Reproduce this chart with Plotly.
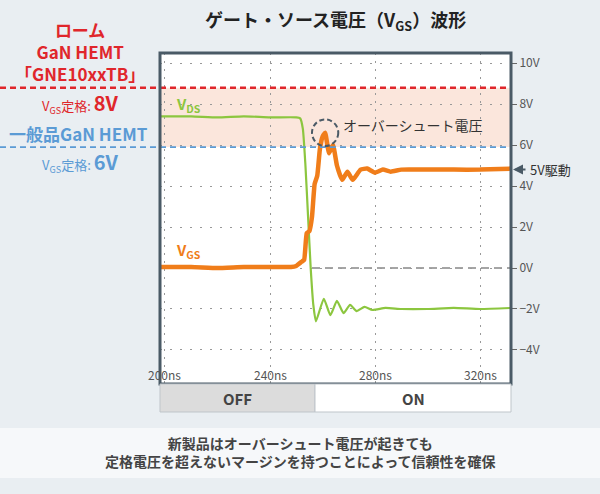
import plotly.graph_objects as go

# time axis (ns) and waveforms
t_vds = [198, 210, 220, 230, 240, 250, 251.5, 252.5, 253.5, 254.5, 255.5, 256.5, 257.5,
         260.5, 263, 265.5, 268, 270.5, 273, 276, 279, 284, 290, 300, 310, 320, 332]
v_vds = [7.4, 7.4, 7.35, 7.4, 7.35, 7.35, 7.3, 6.8, 5.0, 2.5, 0.0, -1.8, -2.6,
         -1.5, -2.3, -1.6, -2.2, -1.8, -2.1, -1.9, -2.05, -1.95, -2.0, -2.0, -1.95, -2.0, -1.95]

t_vgs = [198, 210, 220, 230, 240, 248, 250, 251, 252, 253, 254, 255, 256, 257, 258, 259,
         260, 261, 262.5, 264, 265.5, 267.5, 269.5, 271.5, 274.5, 277, 280, 283, 286, 290,
         300, 310, 320, 332]
v_vgs = [0.05, 0.05, 0.0, 0.05, 0.05, 0.05, 0.1, 0.2, 0.3, 0.4, 1.7, 1.8, 2.5, 4.1, 4.5,
         5.8, 6.4, 6.6, 5.6, 6.0, 5.0, 4.3, 4.7, 4.3, 4.8, 4.85, 4.65, 4.8, 4.7, 4.8,
         4.8, 4.8, 4.8, 4.85]

x_ticks = [200, 240, 280, 320]
x_tick_labels = ["200ns", "240ns", "280ns", "320ns"]
y_ticks = [10, 8, 6, 4, 2, 0, -2, -4]
y_tick_labels = ["10V", "8V", "6V", "4V", "2V", "0V", "−2V", "−4V"]

rohm_limit = 8.8     # drawn position of the 8V rating line
generic_limit = 5.9  # drawn position of the 6V rating line
peak_t, peak_v = 261, 6.6
drive_v = 4.8

RED = "#e0262b"
BLUE = "#5b9bd5"
GREEN = "#8cc63f"
ORANGE = "#f07d1a"
FONT = "Noto Sans CJK JP"


# pixel -> paper helpers (plot area 160..511 x 53..384)
def px(x):
    return (x - 160) / 351


def py(y):
    return (384 - y) / 331


fig = go.Figure()

fig.add_trace(go.Scatter(x=t_vds, y=v_vds, mode="lines", line_shape="spline",
                         line=dict(color=GREEN, width=2.2, smoothing=0.5), hoverinfo="skip"))
fig.add_trace(go.Scatter(x=t_vgs, y=v_vgs, mode="lines", line_shape="spline",
                         line=dict(color=ORANGE, width=4.5, smoothing=0.4), hoverinfo="skip"))

shapes = [
    # margin band between the two ratings
    dict(type="rect", xref="paper", yref="y", x0=0, x1=1, y0=generic_limit, y1=rohm_limit,
         fillcolor="#fbe6dc", line_width=0, layer="below"),
    dict(type="line", xref="paper", yref="y", x0=px(0), x1=1, y0=rohm_limit, y1=rohm_limit,
         line=dict(color=RED, width=2.5, dash="6px,4px")),
    dict(type="line", xref="paper", yref="y", x0=px(0), x1=1, y0=generic_limit, y1=generic_limit,
         line=dict(color=BLUE, width=1.8, dash="6px,4px")),
    # 0V reference after switching
    dict(type="line", xref="x", yref="y", x0=256, x1=332, y0=0, y1=0,
         line=dict(color="#888888", width=1.5, dash="8px,5px"), layer="below"),
    # overshoot circle
    dict(type="circle", xref="x", yref="y", x0=peak_t - 5, x1=peak_t + 5, y0=peak_v - 0.65,
         y1=peak_v + 0.65, line=dict(color="#4a5a66", width=2, dash="5px,3px")),
    # frame
    dict(type="rect", xref="paper", yref="paper", x0=0, x1=1, y0=0, y1=1,
         line=dict(color="#4a5a66", width=3)),
    # OFF / ON bar
    dict(type="rect", xref="paper", yref="paper", x0=0, x1=px(315), y0=py(412), y1=0,
         fillcolor="#dcdcdc", line=dict(color="#bfc5ca", width=1)),
    dict(type="rect", xref="paper", yref="paper", x0=px(315), x1=1, y0=py(412), y1=0,
         fillcolor="white", line=dict(color="#bfc5ca", width=1)),
    # note box
    dict(type="rect", xref="paper", yref="paper", x0=px(0), x1=px(600), y0=py(478), y1=py(428),
         fillcolor="#f6f8fa", line_width=0, layer="below"),
]

annotations = [
    dict(text="<b>ゲート・ソース電圧（V<sub>GS</sub>）波形</b>", x=px(335), y=py(20),
         font=dict(size=18, color="#222222")),
    dict(text="<b>ローム<br>GaN HEMT<br>「GNE10xxTB」</b>", x=px(80), y=py(52),
         font=dict(size=17, color=RED)),
    dict(text="V<sub>GS</sub>定格: <b><span style='font-size:20px'>8V</span></b>",
         x=px(80), y=py(102), font=dict(size=13, color=RED)),
    dict(text="<b>一般品GaN HEMT</b>", x=px(78), y=py(133), font=dict(size=17, color=BLUE)),
    dict(text="V<sub>GS</sub>定格: <b><span style='font-size:20px'>6V</span></b>",
         x=px(80), y=py(161), font=dict(size=13, color=BLUE)),
    dict(text="<b>V<sub>DS</sub></b>", x=px(188), y=py(104), font=dict(size=15, color=GREEN)),
    dict(text="<b>V<sub>GS</sub></b>", x=px(188), y=py(250), font=dict(size=15, color=ORANGE)),
    dict(text="オーバーシュート電圧", x=px(413), y=py(125), font=dict(size=14, color="#333333")),
    # 5V drive arrow and label
    dict(text="", x=px(513), y=drive_v, yref="y", showarrow=True, axref="pixel", ayref="pixel",
         ax=14, ay=0, arrowhead=2, arrowsize=1, arrowwidth=2, arrowcolor="#4a5a66"),
    dict(text="5V駆動", x=px(528), y=drive_v, yref="y", xanchor="left",
         font=dict(size=13, color="#333333")),
    dict(text="<b>OFF</b>", x=px(237), y=py(398), font=dict(size=15, color="#444444")),
    dict(text="<b>ON</b>", x=px(413), y=py(398), font=dict(size=15, color="#444444")),
    dict(text="<b>新製品はオーバーシュート電圧が起きても<br>定格電圧を超えないマージンを持つことによって信頼性を確保</b>",
         x=px(300), y=py(452), font=dict(size=14, color="#444444")),
]
for xt, lab in zip(x_ticks, x_tick_labels):
    annotations.append(dict(text=lab, x=xt, xref="x", y=py(374), font=dict(size=12, color="#555555")))

for a in annotations:
    a.setdefault("xref", "paper")
    a.setdefault("yref", "paper")
    a.setdefault("showarrow", False)
    a.setdefault("xanchor", "center")
    a.setdefault("yanchor", "middle")

fig.update_layout(
    width=600, height=494,
    margin=dict(l=160, r=89, t=53, b=110),
    paper_bgcolor="#e9eef2",
    plot_bgcolor="white",
    font=dict(family=FONT),
    showlegend=False,
    shapes=shapes,
    annotations=annotations,
    xaxis=dict(range=[198.1, 331.8], tickvals=x_ticks, showticklabels=False,
               showgrid=True, gridcolor="#999999", gridwidth=1.2, griddash="2px,6px",
               zeroline=False, fixedrange=True),
    yaxis=dict(range=[-5.66, 10.49], tickvals=y_ticks, ticktext=y_tick_labels, side="right",
               showgrid=True, gridcolor="#999999", gridwidth=1.2, griddash="2px,8px",
               zeroline=False, ticks="outside", ticklen=5, tickcolor="#666666",
               tickfont=dict(size=12, color="#555555"), fixedrange=True),
)

fig.write_html("out.html", config={"displayModeBar": False},
               post_script="document.body.style.margin='0';")
